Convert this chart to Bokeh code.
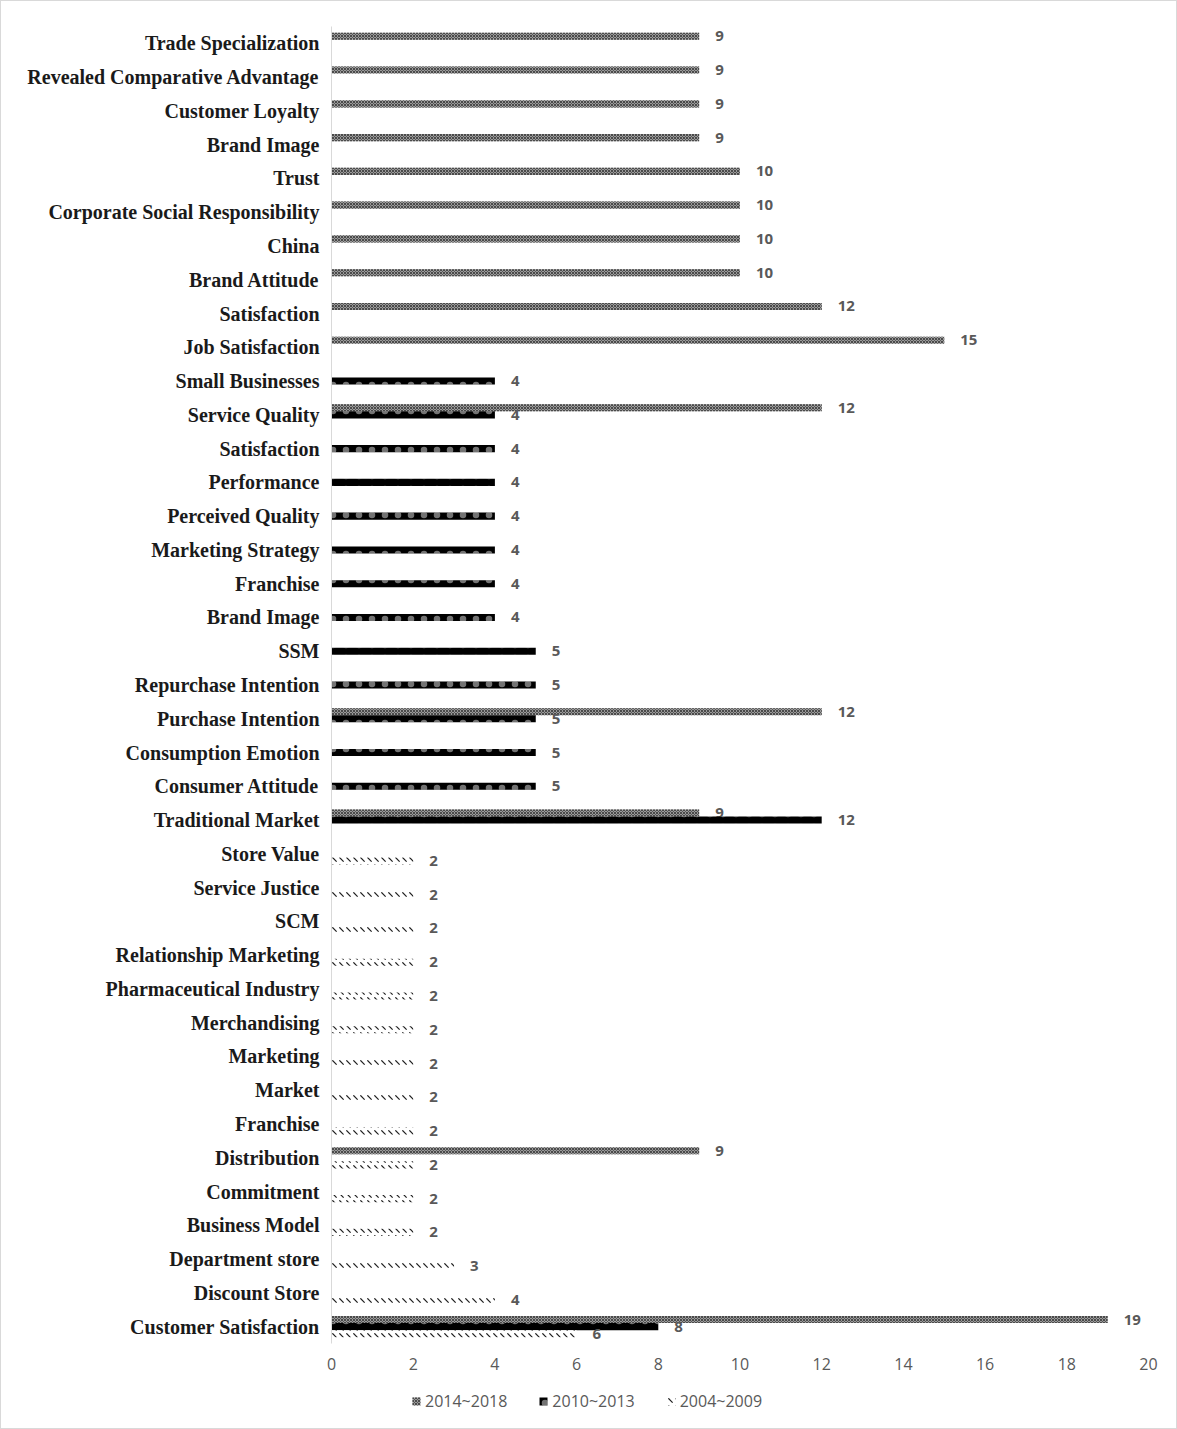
from bokeh.plotting import figure
from bokeh.layouts import column
from bokeh.models import ColumnDataSource, Range1d, FixedTicker, Legend, LegendItem
from bokeh.transform import dodge
from bokeh.core.properties import value
from bokeh.embed import file_html
from bokeh.resources import INLINE

# ---- data (top to bottom as shown) ----
categories = [
    "Trade Specialization", "Revealed Comparative Advantage", "Customer Loyalty",
    "Brand Image", "Trust", "Corporate Social Responsibility", "China",
    "Brand Attitude", "Satisfaction", "Job Satisfaction", "Small Businesses",
    "Service Quality", "Satisfaction", "Performance", "Perceived Quality",
    "Marketing Strategy", "Franchise", "Brand Image", "SSM",
    "Repurchase Intention", "Purchase Intention", "Consumption Emotion",
    "Consumer Attitude", "Traditional Market", "Store Value", "Service Justice",
    "SCM", "Relationship Marketing", "Pharmaceutical Industry", "Merchandising",
    "Marketing", "Market", "Franchise", "Distribution", "Commitment",
    "Business Model", "Department store", "Discount Store", "Customer Satisfaction",
]
N = None
s_2014_2018 = [9, 9, 9, 9, 10, 10, 10, 10, 12, 15,
               N, 12, N, N, N, N, N, N, N, N,
               12, N, N, 9, N, N, N, N, N, N,
               N, N, N, 9, N, N, N, N, 19]
s_2010_2013 = [N, N, N, N, N, N, N, N, N, N,
               4, 4, 4, 4, 4, 4, 4, 4, 5, 5,
               5, 5, 5, 12, N, N, N, N, N, N,
               N, N, N, N, N, N, N, N, 8]
s_2004_2009 = [N, N, N, N, N, N, N, N, N, N,
               N, N, N, N, N, N, N, N, N, N,
               N, N, N, N, 2, 2, 2, 2, 2, 2,
               2, 2, 2, 2, 2, 2, 3, 4, 6]
series_names = ["2014~2018", "2010~2013", "2004~2009"]
x_ticks = [0, 2, 4, 6, 8, 10, 12, 14, 16, 18, 20]

n = len(categories)
TOTAL_W = 1175


def make_source(vals):
    ys = [n - 1 - i for i, v in enumerate(vals) if v is not None]
    xs = [v for v in vals if v is not None]
    return ColumnDataSource(dict(y=ys, x=xs, label=[str(v) for v in xs]))


p = figure(frame_width=817, frame_height=1317, output_backend="svg",
           toolbar_location=None,
           x_range=Range1d(0, 20), y_range=Range1d(-0.5, n - 0.5),
           min_border_left=330, min_border_right=TOTAL_W - 330 - 817,
           min_border_top=25, min_border_bottom=40)
p.outline_line_color = None
p.xgrid.visible = False
p.ygrid.visible = False

bar_h = 0.21
label_font = value("Open Sans")
label_color = "#595959"

specs = [
    (s_2014_2018, bar_h, dict(fill_color="#9a9a9a", hatch_pattern="diagonal_cross",
                              hatch_color="#4a4a4a", hatch_scale=3, hatch_weight=1)),
    (s_2010_2013, 0.0, dict(fill_color="black", hatch_pattern="dot",
                            hatch_color="white", hatch_alpha=0.45, hatch_scale=13,
                            hatch_weight=0.5)),
    (s_2004_2009, -bar_h, dict(fill_color="white", hatch_pattern="left_diagonal_dash",
                               hatch_color="#202020", hatch_scale=7, hatch_weight=1.2)),
]

sources = []
for vals, off, style in specs:
    src = make_source(vals)
    sources.append(src)
    p.hbar(y=dodge("y", off), right="x", left=0, height=bar_h, source=src,
           line_color=None, **style)
    p.text(x="x", y=dodge("y", off), text="label", source=src, x_offset=16,
           text_align="left", text_baseline="middle", text_color=label_color,
           text_font=label_font, text_font_size="15px", text_font_style="bold")

# y axis (categories)
yax = p.yaxis[0]
yax.ticker = FixedTicker(ticks=list(range(n)))
yax.major_label_overrides = {n - 1 - i: c for i, c in enumerate(categories)}
yax.axis_line_color = "#d9d9d9"
yax.major_tick_line_color = None
yax.minor_tick_line_color = None
yax.major_tick_out = 0
yax.major_tick_in = 0
yax.minor_tick_out = 0
yax.major_label_standoff = 12
yax.major_label_text_font = "Liberation Serif"
yax.major_label_text_font_style = "bold"
yax.major_label_text_font_size = "20px"
yax.major_label_text_color = "#1a1a1a"

# x axis
xax = p.xaxis[0]
xax.ticker = FixedTicker(ticks=x_ticks)
xax.axis_line_color = None
xax.major_tick_line_color = None
xax.minor_tick_line_color = None
xax.major_tick_out = 0
xax.major_tick_in = 0
xax.minor_tick_out = 0
xax.major_label_standoff = 14
xax.major_label_text_font = "Open Sans"
xax.major_label_text_font_size = "16px"
xax.major_label_text_color = label_color

# legend strip below the chart (its ranges look away from the bars, so only the
# legend is visible)
lf = figure(width=TOTAL_W, height=45, output_backend="svg", toolbar_location=None,
            x_axis_location=None, y_axis_location=None, min_border=0,
            x_range=Range1d(100, 101), y_range=Range1d(100, 101))
lf.outline_line_color = None
lf.grid.visible = False
items = []
for (vals, off, style), name, src in zip(specs, series_names, sources):
    r = lf.hbar(y="y", right="x", left=0, height=bar_h, source=src,
                line_color=None, **style)
    items.append(LegendItem(label=name, renderers=[r]))
legend = Legend(items=items, orientation="horizontal", location=(80, 16),
                glyph_width=10, glyph_height=10, spacing=31, padding=4, margin=0,
                label_standoff=4,
                label_text_font="Open Sans", label_text_font_size="16px",
                label_text_color=label_color, border_line_color=None,
                background_fill_alpha=0)
lf.add_layout(legend, "center")

layout = column(p, lf, spacing=0, styles={"border": "1px solid #d9d9d9"})

open("out.html", "w").write(file_html(layout, INLINE))
